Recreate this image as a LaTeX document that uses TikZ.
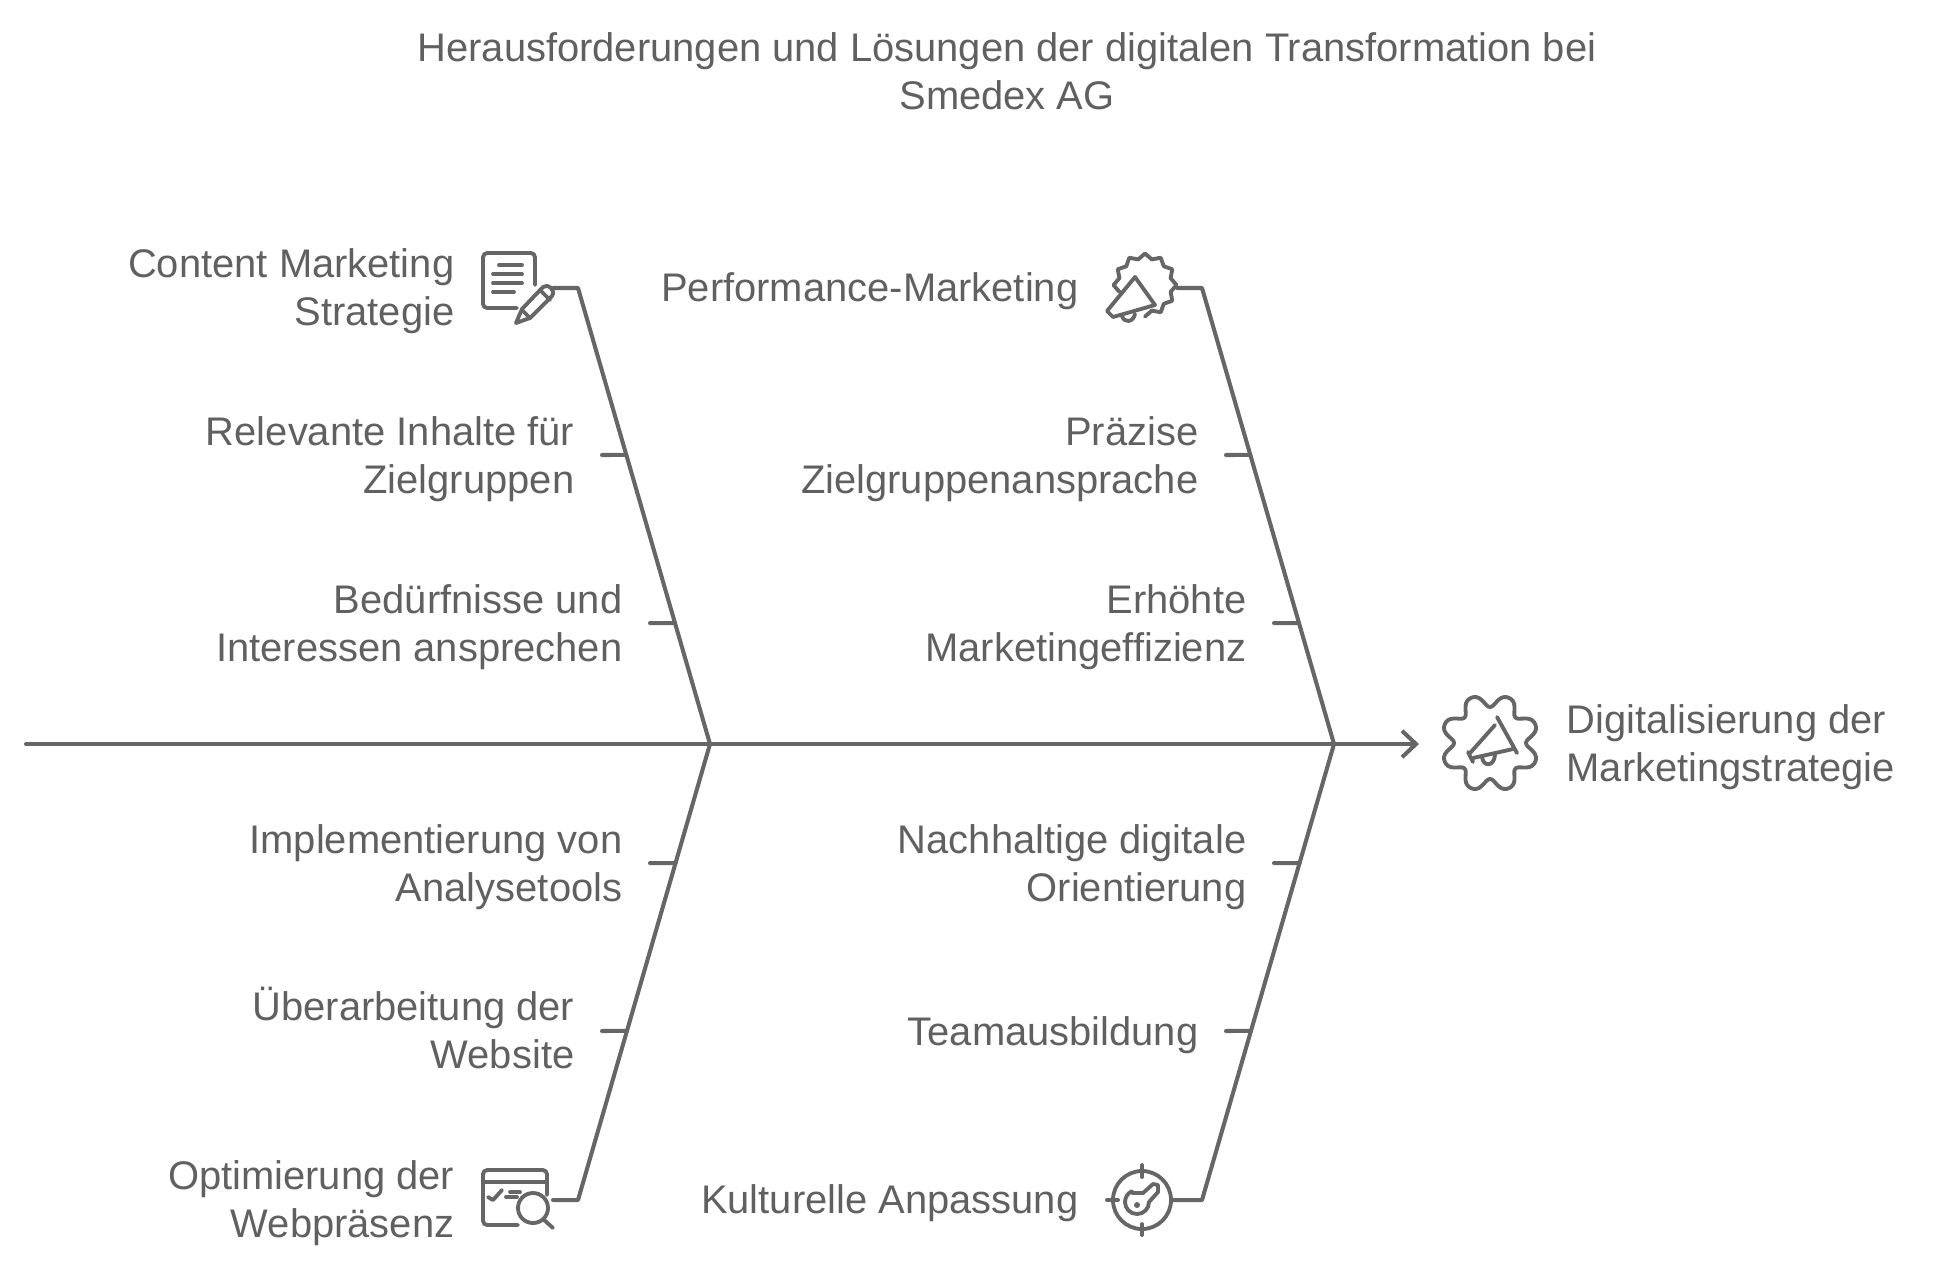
\documentclass[tikz,border=0pt]{standalone}
\usepackage{fontspec}
\setmainfont{Liberation Sans}
\usetikzlibrary{calc}
\usetikzlibrary{arrows.meta}
\definecolor{bonegray}{HTML}{666666}
\definecolor{textgray}{HTML}{606060}
\tikzset{bone/.style={line width = 1.15pt, color = bonegray, line cap = round, line join = round}}
\tikzset{iconline/.style={line width = 1.1pt, color = bonegray, line cap = round, line join = round}}
\tikzset{label/.style={text = textgray, inner sep = 0pt, align = #1, font = \fontsize{11.35pt}{13.77pt}\selectfont}}
\begin{document}
\begin{tikzpicture}[x = 0.01cm, y = -0.01cm]
	\useasboundingbox (0,0) rectangle (1946,1272);

	\coordinate (tail) at (26, 744);
	\coordinate (head) at (1419, 744);
	\coordinate (joinL) at (710, 744);
	\coordinate (joinR) at (1334, 744);
	\coordinate (topL) at (578, 288);
	\coordinate (topR) at (1202, 288);
	\coordinate (botL) at (578, 1200);
	\coordinate (botR) at (1202, 1200);
	\coordinate (stubTL) at (553, 288);
	\coordinate (stubTR) at (1177, 288);
	\coordinate (stubBL) at (553, 1200);
	\coordinate (stubBR) at (1172, 1200);

	\draw[bone, -{Straight Barb[length = 4pt, width = 7.5pt]}] (tail) -- (head);
	\draw[bone] (stubTL) -- (topL) -- (joinL) -- (botL) -- (stubBL);
	\draw[bone] (stubTR) -- (topR) -- (joinR) -- (botR) -- (stubBR);

	\coordinate (t1) at (602, 455);
	\coordinate (t2) at (650, 623);
	\coordinate (t3) at (650, 863);
	\coordinate (t4) at (602, 1031);
	\coordinate (t5) at (1226, 455);
	\coordinate (t6) at (1274, 623);
	\coordinate (t7) at (1274, 863);
	\coordinate (t8) at (1226, 1031);

	\draw[bone] (t1) -- ($(topL)!0.366!(joinL)$);
	\draw[bone] (t2) -- ($(topL)!0.735!(joinL)$);
	\draw[bone] (t3) -- ($(botL)!0.739!(joinL)$);
	\draw[bone] (t4) -- ($(botL)!0.371!(joinL)$);
	\draw[bone] (t5) -- ($(topR)!0.366!(joinR)$);
	\draw[bone] (t6) -- ($(topR)!0.735!(joinR)$);
	\draw[bone] (t7) -- ($(botR)!0.739!(joinR)$);
	\draw[bone] (t8) -- ($(botR)!0.371!(joinR)$);

	\node[label = center] (title) at (1007, 71) {Herausforderungen und Lösungen der digitalen Transformation bei\\Smedex AG};

	\node[label = right, anchor = east] (content) at (455, 291) {Content Marketing\\Strategie};
	\node[label = right, anchor = east] (relevant) at (575, 459) {Relevante Inhalte für\\Zielgruppen};
	\node[label = right, anchor = east] (needs) at (623, 627) {Bedürfnisse und\\Interessen ansprechen};
	\node[label = right, anchor = east] (tools) at (623, 867) {Implementierung von\\Analysetools};
	\node[label = right, anchor = east] (website) at (575, 1028) {Überarbeitung der\\Website};
	\node[label = right, anchor = east] (webpres) at (455, 1203) {Optimierung der\\Webpräsenz};
	\node[label = right, anchor = east] (perf) at (1079, 291) {Performance-Marketing};
	\node[label = right, anchor = east] (precise) at (1199, 459) {Präzise\\Zielgruppenansprache};
	\node[label = right, anchor = east] (effic) at (1247, 627) {Erhöhte\\Marketingeffizienz};
	\node[label = right, anchor = east] (orient) at (1247, 867) {Nachhaltige digitale\\Orientierung};
	\node[label = right, anchor = east] (team) at (1199, 1035) {Teamausbildung};
	\node[label = right, anchor = east] (culture) at (1079, 1203) {Kulturelle Anpassung};
	\node[label = left, anchor = west] (goal) at (1566, 747) {Digitalisierung der\\Marketingstrategie};

	% document and pencil
	\draw[iconline, rounded corners = 1.2pt] (517, 308) -- (483, 308) -- (483, 253) -- (535, 253) -- (535, 285);
	\draw[iconline] (499, 265) -- (522, 265);
	\draw[iconline] (493, 274) -- (522, 274);
	\draw[iconline] (493, 283) -- (522, 283);
	\draw[iconline] (493, 292) -- (514, 292);
	\draw[iconline] (516, 323) -- (522, 309) -- (543, 287) .. controls (548, 283) and (556, 290) .. (552, 296) -- (530, 318) -- cycle;
	\draw[iconline] (540, 290) -- (550, 300);
	\draw[iconline] (522, 310) -- (529, 317);

	% burst with megaphone
	\draw[iconline] plot[domain = -90:195, samples = 20] ({1145 + (29 + 2.5*cos(12*\x))*cos(\x)}, {285 - (29 + 2.5*cos(12*\x))*sin(\x)});
	\draw[iconline] (1135, 277) -- (1155, 305) -- (1113, 317) -- (1107, 311) -- cycle;
	\draw[iconline] (1122, 316) .. controls (1124, 323) and (1133, 323) .. (1135, 314);

	% gear with megaphone
	\draw[iconline] plot[smooth cycle, domain = 0:357.5, samples = 144] ({1490 + (42.5 + 6.8*(cos(8*(\x - 22.5)) - 0.05*cos(24*(\x - 22.5))))*cos(\x + 1.5*sin(8*(\x - 22.5)))}, {743 - (42.5 + 6.8*(cos(8*(\x - 22.5)) - 0.05*cos(24*(\x - 22.5))))*sin(\x + 1.5*sin(8*(\x - 22.5)))});
	\draw[iconline] (1497, 717) -- (1517, 753);
	\draw[iconline] (1468, 752) -- (1473, 762);
	\draw[iconline] (1495, 725) -- (1470, 753);
	\draw[iconline] (1513, 749) -- (1473, 758);
	\draw[iconline] (1482, 757) .. controls (1483, 767) and (1494, 767) .. (1495, 755);

	% browser and magnifier
	\draw[iconline, rounded corners = 1.2pt] (518, 1225) -- (483, 1225) -- (483, 1170) -- (547, 1170) -- (547, 1195);
	\draw[iconline] (483, 1182) -- (547, 1182);
	\draw[iconline] (488, 1197) -- (493, 1200) -- (502, 1190);
	\draw[iconline] (510, 1192) -- (520, 1192);
	\draw[iconline] (506, 1197) -- (517, 1197);
	\draw[iconline] (533, 1208) circle[radius = 15];
	\draw[iconline] (543, 1219) -- (553, 1228);

	% target with key
	\draw[iconline] (1142, 1200) circle[radius = 29];
	\draw[iconline] (1142, 1165) -- (1142, 1177);
	\draw[iconline] (1142, 1224) -- (1142, 1235);
	\draw[iconline] (1107, 1200) -- (1118, 1200);
	\draw[iconline] (1132, 1193) -- (1143, 1193) -- (1153, 1184) -- (1158, 1185) -- (1158, 1192) -- (1149, 1202) arc[start angle = 0, end angle = 245, radius = 12];
	\fill[bonegray] (1137, 1205) circle[radius = 3];
\end{tikzpicture}
\end{document}
